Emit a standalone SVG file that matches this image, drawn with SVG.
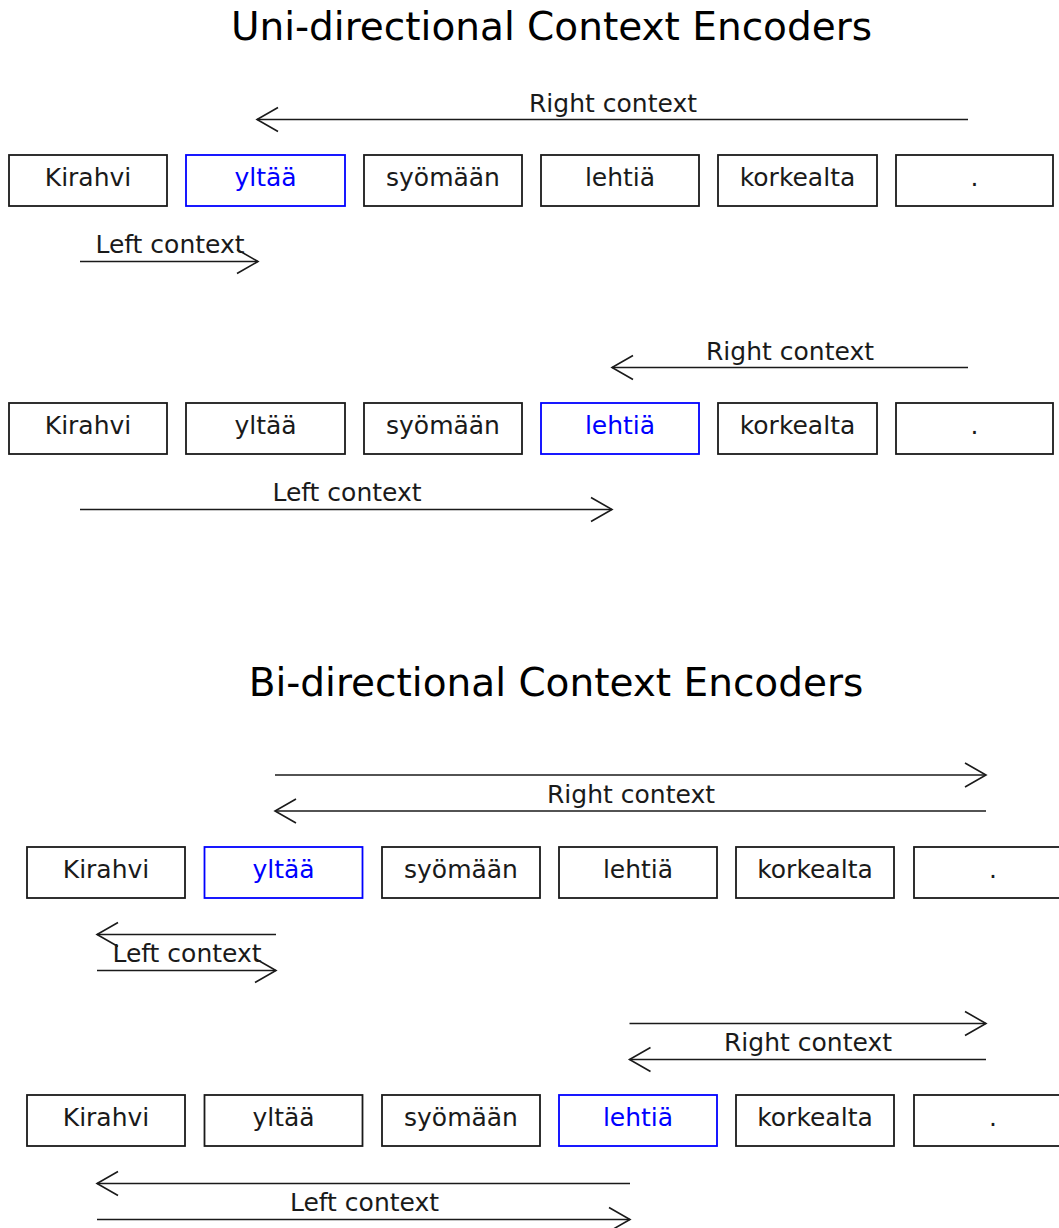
<svg xmlns="http://www.w3.org/2000/svg" width="1059" height="1228" viewBox="0 0 1059 1228">
<style>
.box{fill:#fff;stroke:#1a1a1a;stroke-width:1.8}
.hl{stroke:#0000ff}
.t{font-family:"DejaVu Sans",sans-serif;font-size:25px;fill:#1a1a1a;text-anchor:middle}
.tb{fill:#0000ff}
.title{font-family:"DejaVu Sans",sans-serif;font-size:39px;fill:#000;text-anchor:middle}
.ln{stroke:#1a1a1a;stroke-width:1.6;fill:none;marker-end:url(#ah)}
</style>
<defs>
<marker id="ah" markerUnits="userSpaceOnUse" orient="auto" markerWidth="30" markerHeight="30" viewBox="-25 -15 30 30" refX="0" refY="0" overflow="visible">
<path d="M-21,-12 L0,0 L-21,12" fill="none" stroke="#1a1a1a" stroke-width="1.6"/>
</marker>
</defs>
<rect width="1059" height="1228" fill="#fff"/>
<text class="title" x="551.5" y="40">Uni-directional Context Encoders</text>
<text class="title" x="556" y="696">Bi-directional Context Encoders</text>

<g id="u1">
<g id="u1-n1"><rect class="box" x="9" y="155" width="158" height="51"/><text class="t" x="88" y="186">Kirahvi</text></g>
<g id="u1-n2"><rect class="box hl" x="186" y="155" width="159" height="51"/><text class="t tb" x="265.5" y="186">yltää</text></g>
<g id="u1-n3"><rect class="box" x="364" y="155" width="158" height="51"/><text class="t" x="443" y="186">syömään</text></g>
<g id="u1-n4"><rect class="box" x="541" y="155" width="158" height="51"/><text class="t" x="620" y="186">lehtiä</text></g>
<g id="u1-n5"><rect class="box" x="718" y="155" width="159" height="51"/><text class="t" x="797.5" y="186">korkealta</text></g>
<g id="u1-n6"><rect class="box" x="896" y="155" width="157" height="51"/><text class="t" x="974.5" y="186">.</text></g>
</g>
<g id="u2">
<g id="u2-n1"><rect class="box" x="9" y="403" width="158" height="51"/><text class="t" x="88" y="434">Kirahvi</text></g>
<g id="u2-n2"><rect class="box" x="186" y="403" width="159" height="51"/><text class="t" x="265.5" y="434">yltää</text></g>
<g id="u2-n3"><rect class="box" x="364" y="403" width="158" height="51"/><text class="t" x="443" y="434">syömään</text></g>
<g id="u2-n4"><rect class="box hl" x="541" y="403" width="158" height="51"/><text class="t tb" x="620" y="434">lehtiä</text></g>
<g id="u2-n5"><rect class="box" x="718" y="403" width="159" height="51"/><text class="t" x="797.5" y="434">korkealta</text></g>
<g id="u2-n6"><rect class="box" x="896" y="403" width="157" height="51"/><text class="t" x="974.5" y="434">.</text></g>
</g>
<g id="b1">
<g id="b1-n1"><rect class="box" x="27" y="847" width="158" height="51"/><text class="t" x="106" y="878">Kirahvi</text></g>
<g id="b1-n2"><rect class="box hl" x="204.5" y="847" width="158" height="51"/><text class="t tb" x="283.5" y="878">yltää</text></g>
<g id="b1-n3"><rect class="box" x="382" y="847" width="158" height="51"/><text class="t" x="461" y="878">syömään</text></g>
<g id="b1-n4"><rect class="box" x="559" y="847" width="158" height="51"/><text class="t" x="638" y="878">lehtiä</text></g>
<g id="b1-n5"><rect class="box" x="736" y="847" width="158" height="51"/><text class="t" x="815" y="878">korkealta</text></g>
<g id="b1-n6"><rect class="box" x="914" y="847" width="158" height="51"/><text class="t" x="993" y="878">.</text></g>
</g>
<g id="b2">
<g id="b2-n1"><rect class="box" x="27" y="1095" width="158" height="51"/><text class="t" x="106" y="1126">Kirahvi</text></g>
<g id="b2-n2"><rect class="box" x="204.5" y="1095" width="158" height="51"/><text class="t" x="283.5" y="1126">yltää</text></g>
<g id="b2-n3"><rect class="box" x="382" y="1095" width="158" height="51"/><text class="t" x="461" y="1126">syömään</text></g>
<g id="b2-n4"><rect class="box hl" x="559" y="1095" width="158" height="51"/><text class="t tb" x="638" y="1126">lehtiä</text></g>
<g id="b2-n5"><rect class="box" x="736" y="1095" width="158" height="51"/><text class="t" x="815" y="1126">korkealta</text></g>
<g id="b2-n6"><rect class="box" x="914" y="1095" width="158" height="51"/><text class="t" x="993" y="1126">.</text></g>
</g>

<g id="connectors">
<line class="ln" x1="968" y1="119.5" x2="257" y2="119.5"/>
<text class="t" x="613" y="111.5">Right context</text>
<line class="ln" x1="80" y1="261.5" x2="258" y2="261.5"/>
<text class="t" x="170" y="253">Left context</text>

<line class="ln" x1="968" y1="367.5" x2="612" y2="367.5"/>
<text class="t" x="790" y="359.5">Right context</text>
<line class="ln" x1="80" y1="509.5" x2="612" y2="509.5"/>
<text class="t" x="347" y="501">Left context</text>

<line class="ln" x1="275" y1="775" x2="986" y2="775"/>
<line class="ln" x1="986" y1="811" x2="275" y2="811"/>
<text class="t" x="631" y="803">Right context</text>
<line class="ln" x1="276" y1="934.5" x2="97" y2="934.5"/>
<line class="ln" x1="97" y1="970.5" x2="276" y2="970.5"/>
<text class="t" x="187" y="962">Left context</text>

<line class="ln" x1="629.5" y1="1023.5" x2="986" y2="1023.5"/>
<line class="ln" x1="986" y1="1059.5" x2="629.5" y2="1059.5"/>
<text class="t" x="808" y="1051">Right context</text>
<line class="ln" x1="630" y1="1183.5" x2="97" y2="1183.5"/>
<line class="ln" x1="97" y1="1219.5" x2="630" y2="1219.5"/>
<text class="t" x="364.5" y="1211">Left context</text>
</g>
</svg>
